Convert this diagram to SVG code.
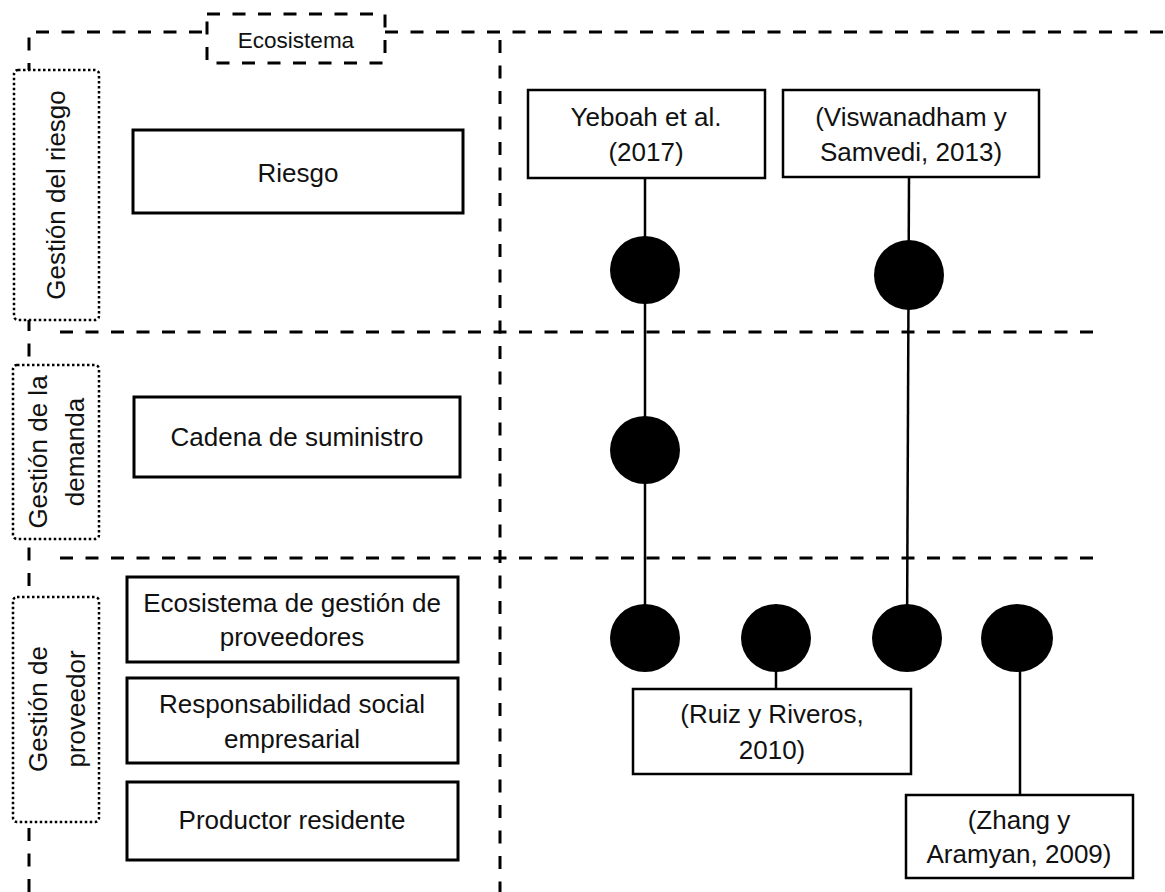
<svg xmlns="http://www.w3.org/2000/svg" width="1165" height="892" viewBox="0 0 1165 892">
  <style>
    .frame { fill: none; stroke: #000; stroke-width: 3; stroke-dasharray: 13 12.5; }
    .lane { fill: #fff; stroke: #000; stroke-width: 2.5; stroke-dasharray: 2.5 2.5; }
    .box { fill: #fff; stroke: #000; stroke-width: 3; }
    .cite { fill: #fff; stroke: #000; stroke-width: 2.5; }
    .link { fill: none; stroke: #000; stroke-width: 2.5; }
    .dot { fill: #000; }
    text { font-family: "Liberation Sans", Arial, sans-serif; font-size: 26px; fill: #111; text-anchor: middle; }
    .small { font-size: 22.5px; }
  </style>

  <!-- Ecosystem frame and section separators -->
  <g id="frame">
    <path class="frame" d="M29,892 V32 H207"/>
    <path class="frame" d="M385,32 H1165"/>
    <path class="frame" d="M500,40 V892"/>
    <path class="frame" d="M60,332 H1105"/>
    <path class="frame" d="M60,558 H1105"/>
  </g>

  <g id="ecosistema">
    <rect class="frame" x="207" y="14" width="178" height="49"/>
    <text class="small" x="296" y="48">Ecosistema</text>
  </g>

  <!-- Section labels (rotated) -->
  <g id="lane-riesgo">
    <rect class="lane" x="14" y="70" width="85" height="250" rx="4"/>
    <text transform="translate(65,195) rotate(-90)">Gestión del riesgo</text>
  </g>
  <g id="lane-demanda">
    <rect class="lane" x="13" y="365" width="86" height="174" rx="4"/>
    <text transform="translate(47,452) rotate(-90)">Gestión de la</text>
    <text transform="translate(84,452) rotate(-90)">demanda</text>
  </g>
  <g id="lane-proveedor">
    <rect class="lane" x="13" y="597" width="86" height="225" rx="4"/>
    <text transform="translate(47,709) rotate(-90)">Gestión de</text>
    <text transform="translate(85,709) rotate(-90)">proveedor</text>
  </g>

  <!-- Concept boxes -->
  <g id="riesgo">
    <rect class="box" x="133" y="130" width="330" height="83"/>
    <text x="298" y="182">Riesgo</text>
  </g>
  <g id="cadena">
    <rect class="box" x="134" y="397" width="326" height="80"/>
    <text x="297" y="446">Cadena de suministro</text>
  </g>
  <g id="ecosistema-proveedores">
    <rect class="box" x="127" y="577" width="331" height="85"/>
    <text x="292" y="612">Ecosistema de gestión de</text>
    <text x="292" y="646">proveedores</text>
  </g>
  <g id="rse">
    <rect class="box" x="127" y="678" width="331" height="85"/>
    <text x="292" y="713">Responsabilidad social</text>
    <text x="292" y="748">empresarial</text>
  </g>
  <g id="productor">
    <rect class="box" x="127" y="782" width="331" height="78"/>
    <text x="292" y="829">Productor residente</text>
  </g>

  <!-- Connectors -->
  <g id="connectors">
    <path class="link" d="M645,178 V638"/>
    <path class="link" d="M909,177 L907,638"/>
    <path class="link" d="M776,638 V689"/>
    <path class="link" d="M1020,638 V795"/>
  </g>

  <!-- Marks -->
  <g id="marks">
    <ellipse class="dot" cx="645" cy="270" rx="35" ry="34"/>
    <ellipse class="dot" cx="909" cy="275" rx="35" ry="35"/>
    <ellipse class="dot" cx="645" cy="450" rx="35" ry="34"/>
    <ellipse class="dot" cx="645" cy="638" rx="35" ry="34"/>
    <ellipse class="dot" cx="776" cy="638" rx="35" ry="34"/>
    <ellipse class="dot" cx="907" cy="638" rx="35" ry="34"/>
    <ellipse class="dot" cx="1017" cy="638" rx="36" ry="34"/>
  </g>

  <!-- Citations -->
  <g id="yeboah">
    <rect class="cite" x="528" y="90" width="237" height="88"/>
    <text x="646" y="126">Yeboah et al.</text>
    <text x="646" y="161">(2017)</text>
  </g>
  <g id="viswanadham">
    <rect class="cite" x="783" y="90" width="256" height="87"/>
    <text x="911" y="126">(Viswanadham y</text>
    <text x="911" y="161">Samvedi, 2013)</text>
  </g>
  <g id="ruiz">
    <rect class="cite" x="633" y="689" width="278" height="85"/>
    <text x="772" y="723">(Ruiz y Riveros,</text>
    <text x="772" y="759">2010)</text>
  </g>
  <g id="zhang">
    <rect class="cite" x="906" y="795" width="227" height="83"/>
    <text x="1019" y="829">(Zhang y</text>
    <text x="1019" y="863">Aramyan, 2009)</text>
  </g>
</svg>
